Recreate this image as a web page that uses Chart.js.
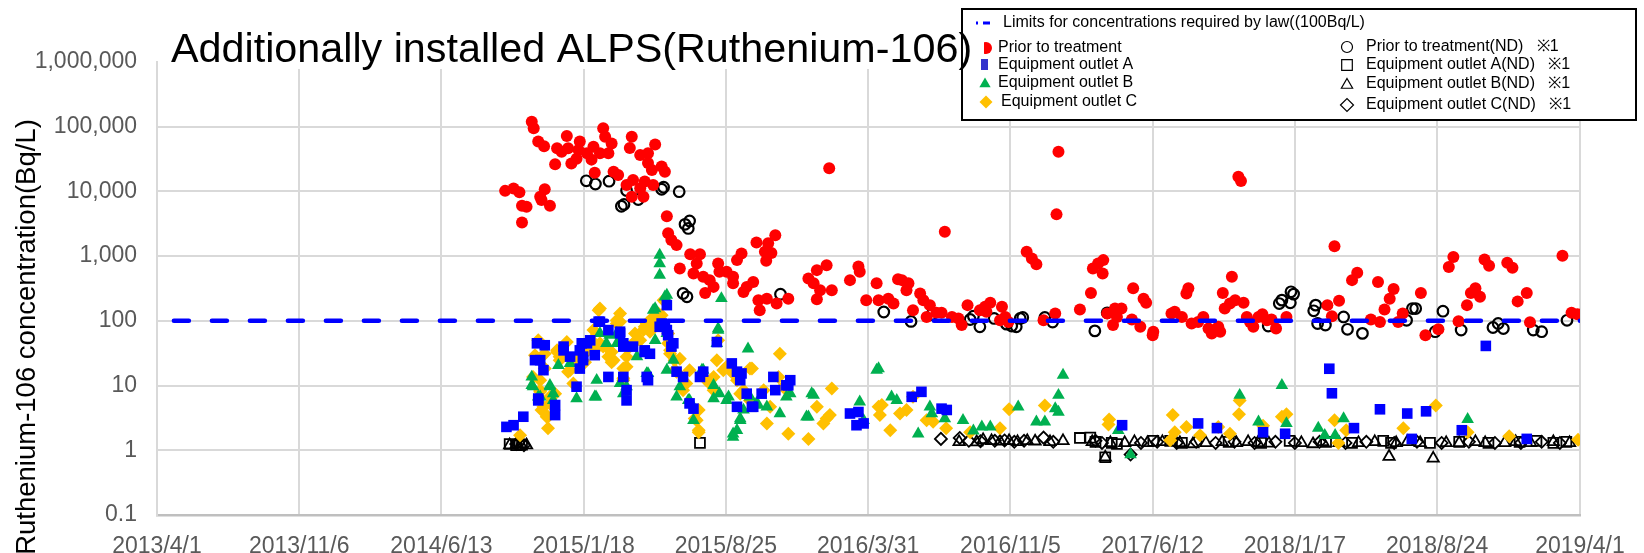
<!DOCTYPE html>
<html>
<head>
<meta charset="utf-8">
<title>Additionally installed ALPS(Ruthenium-106)</title>
<script src="https://cdn.jsdelivr.net/npm/chart.js@4.4.1/dist/chart.umd.min.js"></script>
<style>
  html, body { margin: 0; padding: 0; background: #fff; }
  #wrap { position: relative; width: 1644px; height: 553px; }
</style>
</head>
<body>
<div id="wrap"><canvas id="chart"></canvas></div>
<script>
// x values are days counted from 2013/4/1, y values are Bq/L
var xTickLabels = ["2013/4/1", "2013/11/6", "2014/6/13", "2015/1/18", "2015/8/25", "2016/3/31",
  "2016/11/5", "2017/6/12", "2018/1/17", "2018/8/24", "2019/4/1"];
var yTicks = [0.1, 1, 10, 100, 1000, 10000, 100000, 1000000];

var limitLine = [[26, 100], [2191, 100]];

var prior = [
  [536,10200],[549,11100],[558,9700],[562,6000],[569,5800],[562,3300],[590,8300],[597,10800],[592,7350],[605,6000],
  [577,119000],[580,94500],[587,59000],[596,50000],[613,26300],[616,46400],[623,41000],[631,72000],[633,46400],[638,27000],
  [646,32000],[651,59000],[649,43600],[662,38800],[672,49000],[669,31000],[682,38800],[687,94500],[690,70000],[700,55000],
  [695,38800],[674,19500],[703,20200],[710,17900],[731,70000],[728,47000],[744,36500],[756,38800],[767,53000],[756,27400],
  [762,21400],[777,24200],[782,20200],[733,15000],[751,14200],[744,11200],[764,12600],[723,12600],[749,8300],[731,8300],
  [785,4150],[787,2250],[792,1770],[800,1480],[805,645],[821,1070],[836,1070],[831,770],[826,540],[841,480],
  [851,426],[864,770],[866,575],[877,575],[887,480],[893,868],[900,1100],[844,270],[857,335],[887,380],
  [908,335],[918,400],[903,280],[923,1620],[936,1170],[941,1580],[952,2110],[946,1120],[938,850],[926,209],
  [928,146],[954,185],[972,220],[1035,22800],[1003,450],[1011,380],[1016,608],[1031,726],[1021,298],[1016,215],
  [1039,298],[1067,426],[1080,690],[1082,575],[1092,209],[1111,209],[939,220],[1108,380],
  [1126,220],[1134,185],[1141,438],[1147,426],[1157,380],[1154,298],[1175,265],[1180,209],[1164,146],[1185,115],
  [1190,175],[1200,133],[1213,2380],[1208,133],[1224,115],[1234,109],[1239,86],[1248,175],[1267,146],[1275,165],
  [1283,190],[1277,138],[1301,165],[1298,102],[1306,115],[1311,96],[1339,1170],[1347,920],[1354,750],[1388,41000],
  [1385,4420],[1383,130],[1365,102],[1421,150],[1438,270],[1441,645],[1449,770],[1457,868],[1456,540],[1463,130],
  [1475,155],[1485,155],[1478,115],[1472,86],[1503,318],[1519,220],[1523,190],[1501,105],[1514,81],[1534,68],
  [1533,60],[1562,130],[1567,138],[1578,115],[1585,265],[1588,318],[1593,91],[1603,96],[1611,115],[1619,76],
  [1624,64],[1634,81],[1637,68],[1641,270],[1655,480],[1644,155],[1652,185],[1660,209],[1673,190],[1665,16800],
  [1669,14500],[1678,115],[1683,96],[1688,81],[1696,115],[1702,127],[1709,102],[1716,105],[1723,76],[1739,115],
  [1802,175],[1809,118],[1813,1420],[1820,204],[1840,426],[1848,555],[1869,105],[1883,96],[1880,400],[1890,150],
  [1898,220],[1904,310],[1911,96],[1918,130],[1946,270],[1953,60],[1973,74],[1989,680],[1996,970],[2004,99],
  [2017,175],[2023,270],[2030,318],[2037,235],[2044,890],[2051,710],[2079,790],[2087,660],[2095,200],[2109,270],
  [2114,95],[2164,1010],[2178,133],[2187,127]
];

var priorND = [
  [661,14600],[675,13000],[696,14400],[723,10300],[715,5900],[719,6300],[741,7500],[777,10800],[780,11600],[804,9900],
  [813,3100],[820,3500],[818,2680],[810,265],[816,235],[960,258],[1119,137],[1161,98],[1193,125],[1252,105],
  [1257,118],[1267,81],[1289,109],[1308,89],[1316,83],[1323,81],[1329,109],[1333,113],[1367,113],[1379,96],
  [1444,70],[1463,133],[1711,83],[1728,185],[1732,209],[1745,190],[1746,281],[1750,259],[1781,143],[1784,175],
  [1787,91],[1799,86],[1827,115],[1833,74],[1856,64],[1924,102],[1933,155],[1938,155],[1968,68],[1980,141],
  [2008,72],[2057,79],[2065,91],[2073,76],[2119,72],[2132,68],[2171,102]
];

var outletA = [
  [538,2.3],[549,2.44],[564,3.3],[585,45],[597,42],[590,24.7],[595,17.3],[587,6.3],[613,5.0],[626,40],
  [636,28],[651,35],[656,24.7],[646,9.6],[662,45],[674,29.5],[682,97],[695,72],[695,13.6],[713,64],
  [718,40],[723,8.5],[718,13.6],[733,40],[751,33],[759,31],[754,13.6],[774,81],[785,72],[792,40],
  [800,16.4],[820,5.3],[826,4.4],[836,13.6],[841,16.4],[885,22],[893,16.4],[898,12.1],[908,7.5],[918,4.7],
  [931,7.5],[949,13.6],[952,8.5],[969,10.1],[975,12.1],[1067,3.7],[1080,3.9],[1088,2.6],[862,47],[900,15.4],
  [893,4.7],[916,4.7],[972,10.1],[1077,2.44],[810,13.6],[795,45],[1177,8.0],[1162,6.7],[1208,4.4],[1216,4.2],
  [1486,2.44],[1603,2.6],[1632,2.2],[1805,18.2],[1809,7.6],[1883,4.3],[1925,3.7],[1954,4.0],[2046,41],[1843,2.2],
  [2009,2.04],[1703,1.9],[1737,1.8],[1932,1.5],[2109,1.5],
  [582,24.7],[587,5.9],[613,3.5],[626,35],[654,45],[656,28],[651,18.3],[667,50],[680,97],[713,68],
  [718,45],[723,5.9],[751,35],[756,12.1],[777,91],[782,81],[785,175],[787,60]
];

var outletB = [
  [774,1040],[774,770],[774,510],[869,222],[782,235],[864,72],[577,10.1],[590,6.7],[605,10.1],[610,7.5],
  [646,6.3],[674,6.7],[677,12.1],[697,64],[692,45],[708,45],[713,10.8],[723,9.6],[756,15.4],[767,155],
  [785,250],[785,64],[795,24.7],[805,9.6],[818,5.9],[826,2.9],[839,17.3],[857,10.1],[864,76],[862,45],
  [866,7.5],[880,6.7],[887,1.8],[898,2.9],[903,4.2],[910,37],[923,5.3],[939,4.7],[959,3.7],[975,7.5],
  [1011,7.1],[1003,3.3],[1082,5.6],[1088,2.9],[1111,18.3],[577,13.6],[841,17.3],[820,5.9],[857,6.3],[877,5.9],
  [893,2.04],[887,1.6],[898,3.1],[913,6.7],[926,5.0],[969,6.7],[1008,7.5],[1000,3.3],[1108,17.3],[1131,6.7],
  [1139,5.9],[1172,1.8],[1190,4.7],[1193,3.7],[1213,3.1],[1241,2.9],[1257,2.0],[1270,2.3],[1283,2.3],[1326,4.7],
  [1354,2.75],[1367,2.75],[1388,7.1],[1383,4.4],[1388,3.9],[1395,14.5],[1480,2.04],[1667,7.1],[1696,2.75],[1732,10.1],
  [1739,2.6],[1788,2.2],[1798,1.7],[1814,1.7],[1827,3.1],[2018,3.0],[1499,0.86],
  [579,9.6],[587,6.7],[605,9.6],[610,5.9],[618,20.6],[636,22],[676,6.7],[682,64],[697,60],[708,64],
  [718,7.5],[739,28],[754,15.4],[764,146],[767,50],[785,17.3],[800,6.7]
];

var outletC = [
  [559,1.7],[587,50],[582,29.5],[592,28],[597,18.3],[579,13.6],[590,12.1],[605,6.7],[613,7.5],[595,4.7],
  [602,3.3],[602,2.2],[590,8.0],[631,47],[616,35],[620,28],[636,17.3],[641,10.8],[646,24.7],[656,29.5],
  [667,37],[672,72],[680,146],[682,45],[692,40],[700,33],[703,24.7],[713,130],[708,102],[718,12.1],
  [723,19.5],[728,40],[738,50],[749,72],[754,91],[764,115],[772,130],[780,209],[787,64],[790,35],
  [797,24.7],[805,26],[800,16.4],[820,17.3],[815,10.8],[810,8.5],[834,4.2],[831,2.9],[834,1.9],[851,10.8],
  [857,13.6],[862,24.7],[877,19.5],[887,15.4],[893,12.1],[898,7.5],[903,8.5],[913,5.9],[916,18.3],[934,8.5],
  [939,2.6],[944,4.7],[957,13.6],[964,9.6],[972,1.8],[1003,1.5],[1016,4.7],[1026,2.6],[1036,3.5],[1039,9.0],
  [1111,4.7],[864,50],[959,31],[828,3.1],[834,2.04],[846,12.1],[857,8.5],[872,17.3],[913,18.3],[967,9.0],
  [1031,3.1],[1116,5.0],[1113,3.5],[1129,2.04],[1144,3.7],[1154,4.2],[1164,6.7],[1185,2.9],[1195,2.75],[1215,2.2],
  [1252,1.9],[1298,2.2],[1312,4.3],[1367,4.9],[1466,3.0],[1465,2.5],[1564,3.5],[1567,1.9],[1560,1.43],[1585,2.3],
  [1606,1.7],[1634,2.3],[1652,1.8],[1667,5.9],[1666,3.6],[1703,2.4],[1732,3.3],[1739,3.6],[1813,2.9],[1831,2.04],
  [1919,2.2],[1969,4.9],[2018,1.9],[2082,1.65],[2188,1.45],[1819,1.3],
  [597,31],[590,8.5],[605,5.3],[592,4.2],[600,3.3],[616,33],[620,24.7],[633,16.4],[649,22],[659,23],
  [669,50],[674,35],[682,155],[687,40],[695,28],[700,23],[708,91],[713,97],[723,28],[718,18.3],
  [718,13],[731,42],[736,64],[744,50],[751,81],[759,68],[764,91],[769,102],[777,122],[782,200],
  [787,45],[790,31],[797,17.3]
];

var outletAND = [
  [543,1.25],[553,1.2],[562,1.22],[836,1.3],[1421,1.55],[1437,1.57],[1445,1.35],[1460,0.78],[1470,1.3],[1478,1.25],
  [1534,1.4],[1560,1.4],[1578,1.3],[1650,1.35],[1700,1.3],[1744,1.4],[1800,1.35],[1840,1.3],[1888,1.4],[1900,1.3],
  [1960,1.3],[2005,1.35],[2050,1.3],[2098,1.35],[2124,1.4],[2150,1.3],[2170,1.35]
];

var outletBND = [
  [543,1.2],[553,1.22],[560,1.25],[569,1.2],[1235,1.35],[1262,1.34],[1272,1.45],[1285,1.4],[1298,1.38],[1312,1.4],
  [1325,1.35],[1340,1.4],[1352,1.38],[1375,1.35],[1395,1.4],[1440,1.35],[1460,0.78],[1468,1.3],[1490,1.3],[1505,1.35],
  [1525,1.3],[1548,1.35],[1575,1.3],[1595,1.25],[1615,1.3],[1640,1.35],[1662,1.3],[1680,1.35],[1695,1.3],[1712,1.28],
  [1762,1.3],[1780,1.25],[1795,1.35],[1820,1.3],[1850,1.3],[1875,1.35],[1897,0.8],[1908,1.3],[1925,1.35],[1945,1.3],
  [1965,0.75],[1985,1.3],[2005,1.3],[2030,1.35],[2045,1.3],[2075,1.3],[2092,1.35],[2115,1.3],[2150,1.35],[2175,1.3]
];

var outletCND = [
  [553,1.25],[565,1.2],[1207,1.5],[1236,1.55],[1250,1.4],[1268,1.38],[1290,1.4],[1305,1.42],[1320,1.35],[1335,1.4],
  [1365,1.57],[1380,1.35],[1445,1.4],[1455,1.3],[1499,0.86],[1515,1.3],[1540,1.35],[1570,1.3],[1600,1.35],[1630,1.3],
  [1659,1.35],[1690,1.3],[1722,1.35],[1752,1.3],[1790,1.35],[1830,1.3],[1862,1.35],[1905,1.3],[1940,1.35],[1978,1.3],
  [2020,1.35],[2060,1.3],[2100,1.3],[2132,1.35],[2160,1.3]
];

var FONT = "'Liberation Sans', Arial, Helvetica, sans-serif";
var DAY = 86400000;
var xTickDays = xTickLabels.map(function (s) {
  var p = s.split("/");
  return Math.round((Date.UTC(+p[0], +p[1] - 1, +p[2]) - Date.UTC(2013, 3, 1)) / DAY);
});

function pts(arr) {
  return arr.map(function (d) { return { x: d[0], y: d[1] }; });
}

function scatterSet(label, arr, style, radius, fill, stroke, width) {
  return {
    type: "scatter",
    label: label,
    data: pts(arr),
    pointStyle: style,
    pointRadius: radius,
    pointBackgroundColor: fill,
    pointBorderColor: stroke,
    pointBorderWidth: width
  };
}

// small marker painter for the hand drawn legend
function marker(ctx, style, x, y, r, fill, stroke, width) {
  ctx.save();
  ctx.beginPath();
  if (style === "circle") {
    ctx.arc(x, y, r, 0, Math.PI * 2);
  } else if (style === "rect") {
    var s = r * Math.SQRT1_2;
    ctx.rect(x - s, y - s, 2 * s, 2 * s);
  } else if (style === "triangle") {
    ctx.moveTo(x, y - r);
    ctx.lineTo(x + r * 0.866, y + r * 0.5);
    ctx.lineTo(x - r * 0.866, y + r * 0.5);
    ctx.closePath();
  } else if (style === "rectRot") {
    ctx.moveTo(x - r, y);
    ctx.lineTo(x, y - r);
    ctx.lineTo(x + r, y);
    ctx.lineTo(x, y + r);
    ctx.closePath();
  }
  if (fill) { ctx.fillStyle = fill; ctx.fill(); }
  if (stroke) { ctx.strokeStyle = stroke; ctx.lineWidth = width; ctx.stroke(); }
  ctx.restore();
}

var decorations = {
  id: "decorations",
  beforeDatasetsDraw: function (chart) {
    // vertical gridlines stop a little below the top of the plot
    var a = chart.chartArea;
    chart.ctx.save();
    chart.ctx.fillStyle = "#fff";
    chart.ctx.fillRect(a.left + 1, a.top - 2, a.right - a.left + 2, 9);
    chart.ctx.restore();
  },
  afterDraw: function (chart) {
    var ctx = chart.ctx;
    ctx.save();

    // Legend box
    ctx.fillStyle = "#fff";
    ctx.fillRect(962, 9, 674, 111);
    ctx.strokeStyle = "#000";
    ctx.lineWidth = 2;
    ctx.strokeRect(962, 9, 674, 111);

    ctx.font = "16px " + FONT;
    ctx.fillStyle = "#000";
    ctx.textAlign = "left";
    ctx.textBaseline = "middle";

    // limit line entry
    ctx.strokeStyle = "#0000ff";
    ctx.lineWidth = 3;
    ctx.beginPath();
    ctx.moveTo(976, 23); ctx.lineTo(978, 23);
    ctx.moveTo(983, 23); ctx.lineTo(990, 23);
    ctx.stroke();
    ctx.fillText("Limits for concentrations required by law((100Bq/L)", 1003, 23);

    // prior to treatment: clipped red dot
    ctx.save();
    ctx.beginPath();
    ctx.rect(984, 40, 12, 16);
    ctx.clip();
    marker(ctx, "circle", 986, 48, 6, "#ff0000");
    ctx.restore();
    ctx.fillText("Prior to treatment", 998, 48);

    ctx.fillStyle = "#3333cc";
    ctx.fillRect(981, 59, 7, 11);
    ctx.fillStyle = "#000";
    ctx.fillText("Equipment outlet A", 998, 65);

    marker(ctx, "triangle", 985, 84, 6.5, "#00b050");
    ctx.fillStyle = "#000";
    ctx.fillText("Equipment outlet B", 998, 83);

    marker(ctx, "rectRot", 986, 102, 6.5, "#ffc000");
    ctx.fillStyle = "#000";
    ctx.fillText("Equipment outlet C", 1001, 102);

    var rx = 1347, tx = 1366;
    marker(ctx, "circle", rx, 47, 5.5, null, "#000", 1.2);
    marker(ctx, "rect", rx, 65, 7.5, null, "#000", 1.2);
    marker(ctx, "triangle", rx, 85, 6.5, null, "#000", 1.2);
    marker(ctx, "rectRot", rx, 105, 6.5, null, "#000", 1.2);
    ctx.fillStyle = "#000";
    ctx.fillText("Prior to treatment(ND)   \u203B1", tx, 47);
    ctx.fillText("Equipment outlet A(ND)   \u203B1", tx, 65);
    ctx.fillText("Equipment outlet B(ND)   \u203B1", tx, 84);
    ctx.fillText("Equipment outlet C(ND)   \u203B1", tx, 105);

    // Title, drawn over the legend frame as in the original
    ctx.fillStyle = "#000";
    ctx.font = "41.3px " + FONT;
    ctx.textAlign = "left";
    ctx.textBaseline = "alphabetic";
    ctx.fillText("Additionally installed ALPS(Ruthenium-106)", 171, 62);

    // Y axis title
    ctx.save();
    ctx.translate(27, 337);
    ctx.rotate(-Math.PI / 2);
    ctx.font = "27.5px " + FONT;
    ctx.textAlign = "center";
    ctx.textBaseline = "middle";
    ctx.fillText("Ruthenium-106 concentration(Bq/L)", 0, 0);
    ctx.restore();

    ctx.restore();
  }
};

var ctx = document.getElementById("chart").getContext("2d");
var chart = new Chart(ctx, {
  type: "scatter",
  data: {
    datasets: [
      {
        type: "line",
        label: "Limits for concentrations required by law((100Bq/L)",
        data: pts(limitLine),
        borderColor: "#0000ff",
        borderWidth: 4.5,
        borderDash: [15, 23],
        borderCapStyle: "round",
        pointRadius: 0,
        fill: false
      },
      scatterSet("Equipment outlet A", outletA, "rect", 7.5, "#0000ff", "#0000ff", 0),
      scatterSet("Equipment outlet B", outletB, "triangle", 7.3, "#00b050", "#00b050", 0),
      scatterSet("Equipment outlet C", outletC, "rectRot", 7, "#ffc000", "#ffc000", 0),
      scatterSet("Prior to treatment", prior, "circle", 6, "#ff0000", "#ff0000", 0),
      scatterSet("Equipment outlet A(ND)", outletAND, "rect", 7, "rgba(0,0,0,0)", "#000", 1.8),
      scatterSet("Equipment outlet B(ND)", outletBND, "triangle", 6.5, "rgba(0,0,0,0)", "#000", 1.8),
      scatterSet("Equipment outlet C(ND)", outletCND, "rectRot", 6, "rgba(0,0,0,0)", "#000", 1.8),
      scatterSet("Prior to treatment(ND)", priorND, "circle", 5.3, "rgba(0,0,0,0)", "#000", 2.2)
    ]
  },
  options: {
    responsive: true,
    maintainAspectRatio: false,
    animation: false,
    layout: { padding: { left: 0, right: 64, top: 62, bottom: 0 } },
    plugins: {
      legend: { display: false },
      tooltip: { enabled: false },
      title: { display: false }
    },
    scales: {
      x: {
        type: "linear",
        min: 0,
        max: 2191,
        afterBuildTicks: function (scale) {
          scale.ticks = xTickDays.map(function (d) { return { value: d }; });
        },
        afterFit: function (scale) { scale.height = 38; },
        ticks: {
          autoSkip: false,
          maxRotation: 0,
          padding: 18,
          color: "#595959",
          font: { family: FONT, size: 23 },
          callback: function (v, i) { return xTickLabels[i]; }
        },
        grid: { color: "#d9d9d9", lineWidth: 2, drawTicks: false },
        border: { color: "#bfbfbf", width: 2.5 }
      },
      y: {
        type: "logarithmic",
        min: 0.1,
        max: 1000000,
        afterBuildTicks: function (scale) {
          scale.ticks = yTicks.map(function (v) { return { value: v }; });
        },
        afterFit: function (scale) { scale.width = 157; },
        ticks: {
          padding: 20,
          color: "#595959",
          font: { family: FONT, size: 23 },
          callback: function (v) {
            return Number(v).toLocaleString("en-US", { maximumFractionDigits: 1 });
          }
        },
        grid: {
          drawTicks: false,
          lineWidth: 2,
          color: function (c) {
            return c.tick && c.tick.value === 1000000 ? "rgba(0,0,0,0)" : "#d9d9d9";
          }
        },
        border: { color: "#d9d9d9", width: 2 }
      }
    }
  },
  plugins: [decorations]
});
</script>
</body>
</html>
